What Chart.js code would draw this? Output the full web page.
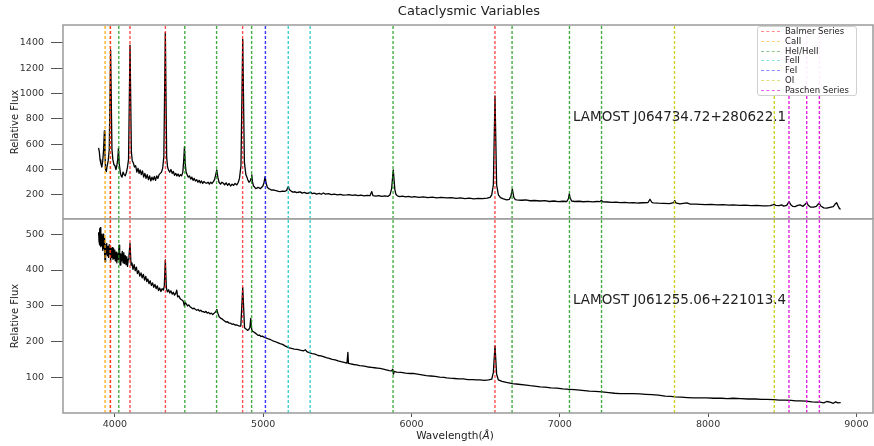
<!DOCTYPE html>
<html>
<head>
<meta charset="utf-8">
<script src="https://cdn.jsdelivr.net/npm/chart.js@4.4.1/dist/chart.umd.min.js"></script>
<style>
    html, body { margin: 0; padding: 0; background: #fff; }
    body { width: 874px; height: 446px; position: relative; overflow: hidden; font-family: "DejaVu Sans", sans-serif; }
    .panel { position: absolute; left: 0; width: 874px; }
    #topPanel { top: 0; height: 219px; }
    #bottomPanel { top: 214px; height: 232px; }
    #legend {
        position: absolute; left: 757px; top: 26px; width: 100px; height: 70px;
        background: rgba(255,255,255,0.92); border: 1px solid #d0d0d0; border-radius: 3px;
        box-sizing: border-box; padding: 0 0 0 3px; font-size: 8.5px; color: #222;
    }
    #legend .row { height: 9.8px; line-height: 9.8px; white-space: nowrap; }
    #legend .sample {
        display: inline-block; width: 19px; height: 0; border-top: 1.3px dashed;
        vertical-align: middle; margin-right: 5px;
    }
    #title { position: absolute; top: 3px; left: 369px; width: 200px; text-align: center; font-size: 13px; color: #222; }
    #xlabel { position: absolute; top: 429px; left: 405px; width: 100px; text-align: center; font-size: 10.5px; color: #222; }
</style>
</head>
<body>
    <!-- deux panneaux empilés, axe x commun -->
    <div class="panel" id="topPanel"><canvas id="topChart"></canvas></div>
    <div class="panel" id="bottomPanel"><canvas id="bottomChart"></canvas></div>
    <div id="title">Cataclysmic Variables</div>
    <div id="legend"></div>
    <div id="xlabel">Wavelength(<i>Å</i>)</div>

<script>
// Spectre LAMOST J064734.72+280622.1 (panneau du haut) : [longueur d'onde, flux]
const topSpectrum = [
    [3890,570],[3895,540],[3900,476],[3905,450],[3912,420],[3918,470],[3924,560],[3929,704],[3933,520],[3937,400],
    [3942,384],[3948,430],[3955,470],[3962,560],[3971,1343],[3980,560],[3986,480],[3993,440],
    [4000,430],[4007,400],[4013,430],[4019,480],[4024,568],[4029,450],[4036,380],[4042,350],[4048,340],[4055,380],
    [4062,360],[4070,350],[4078,380],[4085,420],[4092,480],[4102,1382],[4111,540],[4117,470],
    [4125,450],[4132,420],[4140,430],[4148,380],[4156,410],[4163,370],[4170,397],[4178,360],[4186,390],[4194,340],
    [4202,370],[4210,330],[4218,360],[4226,320],[4234,350],[4242,310],[4250,340],[4258,318],[4266,345],[4274,315],
    [4282,350],[4290,330],[4298,360],[4306,370],[4314,380],[4322,410],[4330,500],[4340,1479],
    [4349,500],[4355,420],[4361,397],[4370,380],[4378,400],[4386,370],[4394,385],[4402,355],[4410,370],[4418,350],
    [4426,365],[4434,345],[4442,360],[4450,350],[4458,380],[4464,470],[4469,580],[4474,450],[4480,380],[4487,360],
    [4495,340],[4503,350],[4511,325],[4519,340],[4527,315],[4535,330],[4543,310],[4552,320],[4560,300],[4568,315],
    [4576,295],[4584,310],[4592,290],[4600,305],[4610,295],[4619,292],[4628,300],[4637,285],[4646,300],[4655,290],
    [4664,305],[4672,320],[4680,360],[4687,397],[4694,340],[4702,300],[4712,285],[4722,300],[4731,292],[4740,280],
    [4750,295],[4760,275],[4770,290],[4780,270],[4790,285],[4800,275],[4810,290],[4822,279],[4832,300],[4840,330],
    [4850,430],[4862,1427],[4873,460],[4883,360],[4889,344],[4896,320],
    [4904,300],[4912,310],[4918,330],[4923,358],[4928,300],[4935,270],[4943,260],[4950,250],[4957,253],[4965,260],
    [4973,255],[4982,250],[4990,260],[4998,270],[5006,300],[5013,344],[5020,290],[5028,260],[5036,250],[5046,245],
    [5056,238],[5068,240],[5080,235],[5092,232],[5104,228],[5114,226],[5130,230],[5145,228],[5158,235],[5164,255],
    [5170,266],[5177,240],[5188,230],[5200,222],[5215,225],[5225,218],[5237,221],[5250,224],[5262,214],[5278,220],
    [5293,212],[5310,215],[5321,222],[5330,210],[5345,214],[5360,206],[5378,212],[5392,205],[5406,215],[5420,206],
    [5440,210],[5460,203],[5480,207],[5500,200],[5520,205],[5540,198],[5563,200],[5580,202],[5600,196],[5620,200],
    [5640,194],[5660,198],[5680,192],[5700,196],[5720,194],[5732,226],[5740,194],[5760,190],[5780,194],[5800,188],
    [5820,192],[5840,188],[5855,200],[5866,250],[5877,397],[5888,240],[5895,205],[5905,192],
    [5920,186],[5940,190],[5960,184],[5980,188],[6000,182],[6020,186],[6050,180],[6080,184],[6110,178],[6140,182],
    [6170,176],[6200,180],[6238,176],[6270,178],[6300,172],[6330,176],[6360,170],[6390,174],[6420,168],[6450,172],
    [6480,170],[6510,174],[6530,180],[6541,200],[6552,280],[6563,980],[6574,280],
    [6586,200],[6600,178],[6620,168],[6642,161],[6660,165],[6670,190],[6680,245],[6690,180],
    [6700,163],[6710,161],[6740,158],[6770,160],[6800,154],[6830,156],[6867,152],[6900,155],[6930,148],[6960,152],
    [6990,147],[7020,150],[7047,148],[7058,170],[7064,208],[7070,175],[7080,152],[7100,148],[7130,150],[7160,146],
    [7190,149],[7220,145],[7250,148],[7271,147],[7280,158],[7290,146],[7320,144],[7350,141],[7380,143],[7406,139],
    [7440,141],[7470,137],[7496,139],[7530,136],[7560,138],[7595,140],[7608,166],[7620,142],[7630,137],
    [7664,135],[7700,134],[7740,132],[7768,140],[7775,155],[7782,138],[7810,130],[7856,138],[7880,127],[7920,128],
    [7946,126],[7980,124],[8020,125],[8060,122],[8100,123],[8140,120],[8170,121],[8210,118],[8250,119],[8290,116],
    [8330,117],[8370,114],[8395,113],[8420,116],[8436,122],[8445,126],[8455,118],[8480,115],[8496,121],[8510,112],
    [8530,118],[8546,147],[8556,125],[8570,110],[8586,108],[8605,118],[8620,121],[8640,110],[8658,130],[8665,142],
    [8675,118],[8690,104],[8710,103],[8730,110],[8743,128],[8750,134],[8760,112],[8780,98],[8800,95],[8822,102],
    [8844,108],[8858,130],[8867,139],[8876,115],[8886,92],[8894,87]
];

// Spectre LAMOST J061255.06+221013.4 (panneau du bas)
const bottomSpectrum = [
    [3890,505],[3893,480],[3896,515],[3899,470],[3902,518],[3905,465],[3908,500],[3911,469],[3914,495],[3918,455],
    [3921,500],[3924,460],[3927,488],[3931,440],[3934,423],[3937,470],[3941,445],[3945,474],[3949,440],[3953,465],
    [3957,435],[3961,470],[3965,445],[3968,465],[3971,423],[3975,460],[3979,435],[3983,462],[3987,430],[3991,460],
    [3995,432],[3999,455],[4003,425],[4008,450],[4013,420],[4018,445],[4023,430],[4028,469],[4032,440],[4035,414],
    [4040,445],[4045,425],[4050,452],[4055,420],[4060,448],[4065,418],[4070,440],[4075,415],[4080,437],[4085,410],
    [4090,430],[4095,440],[4102,474],[4109,414],[4115,420],[4122,402],[4130,415],[4137,398],
    [4145,408],[4152,390],[4160,398],[4168,383],[4176,392],[4184,378],[4192,388],[4200,372],[4208,382],[4215,368],
    [4222,375],[4230,362],[4238,370],[4246,357],[4254,364],[4262,352],[4270,360],[4278,348],[4286,356],[4294,343],
    [4302,350],[4310,340],[4318,348],[4327,344],[4333,355],[4340,428],[4347,350],[4354,339],
    [4362,345],[4370,336],[4378,342],[4386,333],[4394,338],[4402,330],[4410,335],[4417,344],[4423,325],[4431,328],
    [4439,321],[4447,318],[4455,316],[4462,312],[4468,300],[4474,310],[4482,305],[4490,300],[4498,303],[4507,298],
    [4516,295],[4525,292],[4534,294],[4543,290],[4552,288],[4561,290],[4570,286],[4579,288],[4588,284],[4596,284],
    [4605,282],[4614,285],[4623,280],[4632,282],[4641,278],[4650,280],[4660,276],[4670,280],[4680,284],[4687,290],
    [4694,280],[4703,270],[4712,266],[4722,264],[4731,261],[4740,258],[4750,255],[4760,256],[4770,252],[4780,252],
    [4790,249],[4800,250],[4810,247],[4822,247],[4832,245],[4840,244],[4849,244],[4862,351],[4874,240],
    [4880,237],[4886,235],[4894,232],[4902,234],[4910,240],[4916,265],
    [4920,240],[4926,230],[4934,228],[4945,225],[4955,222],[4965,218],[4975,219],[4985,215],[4995,216],[5005,213],
    [5019,211],[5035,208],[5050,206],[5065,203],[5080,201],[5097,198],[5114,195],[5130,193],[5150,188],[5170,184],
    [5190,182],[5210,180],[5230,179],[5249,177],[5270,175],[5285,178],[5294,173],[5310,170],[5330,167],[5350,166],
    [5370,162],[5390,161],[5406,159],[5425,156],[5445,154],[5465,151],[5485,150],[5505,147],[5525,145],[5545,143],
    [5565,141],[5571,171],[5575,140],[5590,139],[5610,137],[5630,136],[5650,134],[5670,133],[5690,132],[5710,130],
    [5730,129],[5750,128],[5770,127],[5788,126],[5810,124],[5830,122],[5850,120],[5866,119],[5874,124],[5878,110],
    [5884,118],[5900,116],[5930,115],[5960,113],[5990,112],[6012,112],[6040,110],[6070,108],[6100,106],[6130,105],
    [6160,104],[6190,102],[6220,101],[6238,100],[6260,99],[6290,98],[6320,97],[6350,97],[6380,95],[6410,95],
    [6440,94],[6462,94],[6490,93],[6520,94],[6541,96],[6552,115],[6563,189],[6574,110],
    [6586,94],[6610,90],[6640,87],[6680,84],[6720,82],[6760,80],[6800,78],[6830,77],
    [6867,75],[6900,74],[6940,72],[6980,71],[7020,69],[7064,68],[7100,67],[7150,65],[7200,63],[7240,62],
    [7285,61],[7330,59],[7370,57],[7406,56],[7450,56],[7496,56],[7540,55],[7580,54],[7620,53],[7664,52],
    [7710,49],[7750,48],[7775,47],[7820,46],[7860,45],[7900,44],[7946,44],[7990,44],[8040,43],[8090,43],
    [8130,42],[8170,43],[8220,42],[8270,41],[8320,41],[8360,40],[8395,40],[8440,39],[8480,38],[8520,38],
    [8560,37],[8590,36],[8620,36],[8660,35],[8700,33],[8730,32],[8755,32],[8780,30],[8800,34],[8822,32],
    [8844,29],[8860,33],[8875,30],[8894,31]
];

// Raies identifiées (Å)
const balmerWaves = [3970.1, 4101.7, 4340.5, 4861.3, 6562.8];
const caiiWaves = [3933.7, 3968.5];
const heliumWaves = [4026.2, 4471.5, 4685.7, 4921.9, 5875.6, 6678.2, 7065.2, 7281.4];
const feiiWaves = [5169.0, 5316.6];
const feiWaves = [5015.0];
const oiWaves = [7773.4, 8446.4];
const paschenWaves = [8545.4, 8665.0, 8750.5];

const seriesNames = ['Balmer Series', 'CaII', 'HeI/HeII', 'FeII', 'FeI', 'OI', 'Paschen Series'];
const xTicks = [4000, 5000, 6000, 7000, 8000, 9000];
const topTicks = [200, 400, 600, 800, 1000, 1200, 1400];
const bottomTicks = [100, 200, 300, 400, 500];

// Couleurs des raies
const lineColors = ['rgba(255,20,20,0.75)', 'rgba(255,165,0,0.85)', 'rgba(20,155,20,0.8)', 'rgba(0,191,191,0.75)',
                    'rgba(20,20,255,0.85)', 'rgba(200,200,0,0.85)', 'rgba(220,0,220,0.85)'];
const legendColors = ['rgba(255,0,0,0.45)', 'rgba(255,165,0,0.5)', 'rgba(0,128,0,0.45)', 'rgba(0,191,191,0.45)',
                      'rgba(0,0,255,0.45)', 'rgba(191,191,0,0.5)', 'rgba(210,0,210,0.6)'];
const waveGroups = [balmerWaves, caiiWaves, heliumWaves, feiiWaves, feiWaves, oiWaves, paschenWaves];

const FONT = '"DejaVu Sans", sans-serif';

// Légende HTML
document.getElementById('legend').innerHTML = seriesNames.map((n, i) =>
    `<div class="row"><span class="sample" style="border-top-color:${legendColors[i]}"></span>${n}</div>`
).join('');

// cadre gris + étiquette de l'objet
const framePlugin = {
    id: 'frame',
    afterDatasetsDraw(chart, args, opts) {
        const { ctx, chartArea: a, scales } = chart;
        ctx.save();
        ctx.strokeStyle = '#9a9a9a';
        ctx.lineWidth = 1.5;
        ctx.strokeRect(a.left, a.top, a.right - a.left, a.bottom - a.top);
        if (opts.text) {
            ctx.fillStyle = '#222';
            ctx.font = '13.5px ' + FONT;
            ctx.textBaseline = 'middle';
            ctx.fillText(opts.text, scales.x.getPixelForValue(opts.wave), scales.y.getPixelForValue(opts.flux));
        }
        ctx.restore();
    }
};

function makePanel(canvasId, spectrum, yMin, yMax, yTicks, isBottom, label) {
    const datasets = [{
        data: spectrum.map(p => ({ x: p[0], y: p[1] })),
        borderColor: '#000',
        borderWidth: 1.3,
        borderJoinStyle: 'round',
        pointRadius: 0,
        order: 2
    }];
    waveGroups.forEach((waves, g) => {
        waves.forEach(w => {
            datasets.push({
                data: [{ x: w, y: yMin }, { x: w, y: yMax }],
                borderColor: lineColors[g],
                borderWidth: 1.4,
                borderDash: [3, 2],
                pointRadius: 0,
                order: 1
            });
        });
    });

    return new Chart(document.getElementById(canvasId), {
        type: 'line',
        data: { datasets },
        options: {
            responsive: true,
            maintainAspectRatio: false,
            animation: false,
            layout: { padding: { top: isBottom ? 5 : 25, right: 1, left: 0, bottom: 0 } },
            plugins: {
                legend: { display: false },
                tooltip: { enabled: false },
                title: { display: false },
                frame: label
            },
            scales: {
                x: {
                    type: 'linear',
                    display: isBottom,
                    min: 3650,
                    max: 9112,
                    afterBuildTicks: s => { s.ticks = xTicks.map(v => ({ value: v })); },
                    afterFit: s => { if (isBottom) s.height = 33; },
                    ticks: { color: '#333', font: { family: FONT, size: 9.5 }, padding: 2, maxRotation: 0, callback: v => String(v) },
                    grid: { drawOnChartArea: false, drawTicks: true, tickLength: 4, color: '#555' },
                    border: { display: false }
                },
                y: {
                    min: yMin,
                    max: yMax,
                    afterBuildTicks: s => { s.ticks = yTicks.map(v => ({ value: v })); },
                    afterFit: s => { s.width = 63; s.paddingTop = 0; s.paddingBottom = 0; },
                    ticks: { color: '#333', font: { family: FONT, size: 9.5 }, padding: 7, callback: v => String(v) },
                    grid: { drawOnChartArea: false, drawTicks: true, tickLength: 12, color: '#555' },
                    border: { display: false },
                    title: { display: true, text: 'Relative Flux', color: '#222', font: { family: FONT, size: 10 }, padding: { top: 9, bottom: 0 } }
                }
            }
        },
        plugins: [framePlugin]
    });
}

makePanel('topChart', topSpectrum, 10, 1540, topTicks, false,
    { text: 'LAMOST J064734.72+280622.1', wave: 7089, flux: 807 });
makePanel('bottomChart', bottomSpectrum, 2, 542, bottomTicks, true,
    { text: 'LAMOST J061255.06+221013.4', wave: 7089, flux: 316 });
</script>
</body>
</html>
